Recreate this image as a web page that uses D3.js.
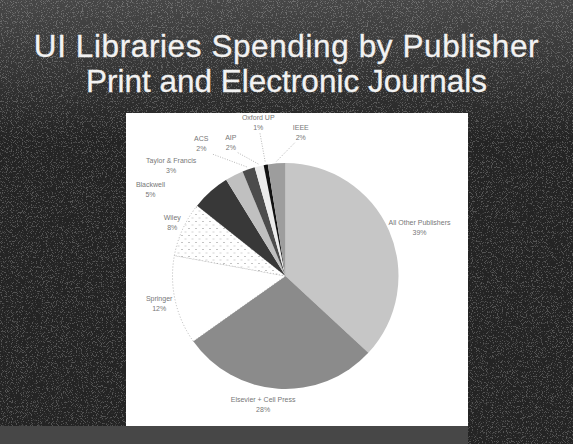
<!DOCTYPE html>
<html>
<head>
<meta charset="utf-8">
<script src="https://cdn.jsdelivr.net/npm/d3@7"></script>
<style>
  body { margin: 0; background: #262626; }
  svg { display: block; }
</style>
</head>
<body>
<svg id="chart" width="573" height="444"></svg>
<script>
// publishers, going clockwise from 12 o'clock
var publishers = ["All Other Publishers", "Elsevier + Cell Press", "Springer", "Wiley", "Blackwell",
                  "Taylor & Francis", "ACS", "AIP", "Oxford UP", "IEEE"];
// share of spending (%)
var shares = [36.9, 28.3, 12.7, 7.8, 5.5, 2.6, 1.8, 1.3, 0.6, 2.5];
// percentage text printed on the chart
var shareLabels = ["39%", "28%", "12%", "8%", "5%", "3%", "2%", "2%", "1%", "2%"];
var titleLines = ["UI Libraries Spending by Publisher", "Print and Electronic Journals"];

(function() {
    var svg = d3.select("#chart");
    var width = +svg.attr("width"), height = +svg.attr("height");

    var defs = svg.append("defs");

    // speckled dark slide background
    var noise = defs.append("filter").attr("id", "speckle").attr("x", 0).attr("y", 0).attr("width", 1).attr("height", 1);
    noise.append("feTurbulence").attr("type", "fractalNoise").attr("baseFrequency", 1.2).attr("numOctaves", 1).attr("seed", 3);
    noise.append("feColorMatrix").attr("type", "matrix")
        .attr("values", "0 0 0 0 1  0 0 0 0 1  0 0 0 0 1  0 0 0 -12 5.2");
    noise.append("feComposite").attr("in2", "SourceGraphic").attr("operator", "in");

    var topGlow = defs.append("linearGradient").attr("id", "topglow").attr("x1", 0).attr("y1", 0).attr("x2", 0).attr("y2", 1);
    topGlow.append("stop").attr("offset", "0%").attr("stop-color", "#fff").attr("stop-opacity", 0.16);
    topGlow.append("stop").attr("offset", "100%").attr("stop-color", "#fff").attr("stop-opacity", 0);

    // dotted fill for Wiley
    var dots = defs.append("pattern").attr("id", "dots").attr("patternUnits", "userSpaceOnUse")
        .attr("width", 7).attr("height", 7);
    dots.append("rect").attr("width", 7).attr("height", 7).attr("fill", "#fff");
    dots.append("rect").attr("x", 1).attr("y", 1).attr("width", 1).attr("height", 1).attr("fill", "#888");
    dots.append("rect").attr("x", 4.5).attr("y", 4.5).attr("width", 1).attr("height", 1).attr("fill", "#aaa");

    svg.append("rect").attr("width", width).attr("height", height).attr("fill", "#242424");
    svg.append("rect").attr("width", width).attr("height", 140).attr("fill", "url(#topglow)");
    svg.append("rect").attr("width", width).attr("height", height).attr("fill", "#fff")
        .attr("filter", "url(#speckle)").attr("opacity", 0.22);
    svg.append("rect").attr("x", 0).attr("y", 426).attr("width", 468).attr("height", 18).attr("fill", "#474747");

    // title
    svg.append("g").selectAll("text").data(titleLines).enter().append("text")
        .attr("x", width / 2)
        .attr("y", function(d, i) { return 57 + i * 35; })
        .attr("text-anchor", "middle")
        .attr("font-family", "Liberation Sans, Arial, sans-serif")
        .attr("font-size", 31.5)
        .attr("letter-spacing", function(d, i) { return i == 0 ? 0.6 : 0; })
        .attr("fill", "#f2f2f2")
        .attr("stroke", "#f2f2f2")
        .attr("stroke-width", 0.3)
        .text(function(d) { return d; });

    // white chart panel
    svg.append("rect").attr("x", 126).attr("y", 113).attr("width", 342).attr("height", 313).attr("fill", "#fff");

    var cx = 285.5, cy = 276, radius = 113;
    var fills = ["#c6c6c6", "#8b8b8b", "#ffffff", "url(#dots)", "#383838",
                 "#c0c0c0", "#4c4c4c", "#ececec", "#111111", "#9d9d9d"];

    var pie = d3.pie().sort(null).value(function(d) { return d; });
    var arc = d3.arc().innerRadius(0).outerRadius(radius);
    var arcs = pie(shares);

    var g = svg.append("g").attr("transform", "translate(" + cx + "," + cy + ")");

    g.selectAll("path").data(arcs).enter().append("path")
        .attr("d", arc)
        .attr("fill", function(d, i) { return fills[i]; })
        .attr("stroke", function(d, i) { return (i == 2 || i == 3) ? "#999" : "none"; })
        .attr("stroke-width", 0.7)
        .attr("stroke-dasharray", "1,2");

    // label placement: [angle in degrees clockwise from top, distance from centre]
    var labelPlace = [[69.6, 143], [190, 129], [258.4, 129], [296, 126], [303, 161],
                      [314.4, 160], [327.8, 158], [338, 146], [350, 157], [6, 146]];

    function polar(deg, r) {
        var a = deg * Math.PI / 180;
        return [r * Math.sin(a), -r * Math.cos(a)];
    }

    var labels = g.append("g")
        .attr("font-family", "Liberation Sans, Arial, sans-serif")
        .attr("font-size", 7)
        .attr("fill", "#777")
        .attr("text-anchor", "middle");

    arcs.forEach(function(d, i) {
        var p = polar(labelPlace[i][0], labelPlace[i][1]);
        var t = labels.append("text").attr("transform", "translate(" + p[0] + "," + p[1] + ")");
        t.append("tspan").attr("x", 0).attr("y", -1).text(publishers[i]);
        t.append("tspan").attr("x", 0).attr("y", 9).text(shareLabels[i]);

        // leader lines for the thin slices at the top
        if (i >= 6) {
            var mid = (d.startAngle + d.endAngle) / 2 * 180 / Math.PI;
            var a = polar(mid, radius + 2);
            var b = [p[0] + (a[0] - p[0]) * 0.25, p[1] + 12];
            g.append("line")
                .attr("x1", b[0]).attr("y1", b[1])
                .attr("x2", a[0]).attr("y2", a[1])
                .attr("stroke", "#888").attr("stroke-width", 0.6)
                .attr("stroke-dasharray", "1,1.5");
        }
    });
}());
</script>
</body>
</html>
